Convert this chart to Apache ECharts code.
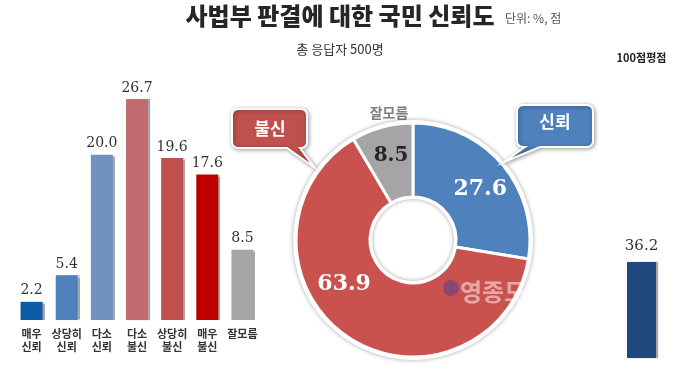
<!DOCTYPE html>
<html><head><meta charset="utf-8">
<script src="https://cdn.jsdelivr.net/npm/echarts@6/dist/echarts.min.js"></script>
<style>html,body{margin:0;padding:0;background:#fff}#c{width:680px;height:376px}</style>
</head><body><div id="c"></div>
<script>
const categories = ['매우\n신뢰','상당히\n신뢰','다소\n신뢰','다소\n불신','상당히\n불신','매우\n불신','잘모름'];
const values = [2.2, 5.4, 20.0, 26.7, 19.6, 17.6, 8.5];
const pieNames = ['신뢰','불신','잘모름'];
const pieValues = [27.6, 63.9, 8.5];
const scoreCategory = ['100점평점'];
const scoreValue = [36.2];

const KR = 'Noto Sans CJK KR';
const SERIF = 'DejaVu Serif';
const barColors = ['#0d5aa7','#4f81bd','#6f92be','#c06b6e','#c0504d','#c00000','#a6a6a6'];
const pieColors = ['#4f81bd','#c9524e','#a5a5a5'];
const pieLabelColors = ['#fff','#fff','#262626'];

function bubble(x, y, w, h, r, tb1, tb2, tip) {
  const pts = [];
  function arc(cx, cy, a0, a1) {
    for (let i = 0; i <= 6; i++) {
      const a = (a0 + (a1 - a0) * i / 6) * Math.PI / 180;
      pts.push([cx + r * Math.cos(a), cy + r * Math.sin(a)]);
    }
  }
  arc(x + r, y + r, 180, 270);
  arc(x + w - r, y + r, 270, 360);
  arc(x + w - r, y + h - r, 0, 90);
  pts.push([tb2, y + h], tip, [tb1, y + h]);
  arc(x + r, y + h - r, 90, 180);
  return pts;
}

const chart = echarts.init(document.getElementById('c'));
chart.setOption({
  backgroundColor: '#fff',
  animation: false,
  grid: [
    {left: 14, width: 246, top: 72, bottom: 56},
    {left: 620, width: 43, top: 93, bottom: 18}
  ],
  xAxis: [
    {gridIndex: 0, type: 'category', data: categories,
     axisLine: {show: false}, axisTick: {show: false},
     axisLabel: {interval: 0, fontFamily: KR, fontWeight: 'bold', fontSize: 11, lineHeight: 13, color: '#333', margin: 7}},
    {gridIndex: 1, type: 'category', data: scoreCategory, position: 'top',
     axisLine: {show: false}, axisTick: {show: false},
     axisLabel: {fontFamily: KR, fontWeight: 'bold', fontSize: 11, color: '#222', margin: 30}}
  ],
  yAxis: [
    {gridIndex: 0, type: 'value', min: 0, max: 30, show: false},
    {gridIndex: 1, type: 'value', min: 0, max: 100, show: false}
  ],
  series: [
    {type: 'bar', xAxisIndex: 0, yAxisIndex: 0, barWidth: 22,
     data: values.map((v, i) => ({value: v, itemStyle: {color: barColors[i]}})),
     itemStyle: {shadowColor: 'rgba(0,0,0,0.35)', shadowOffsetX: 2, shadowBlur: 1},
     label: {show: true, position: 'top', distance: 4, fontFamily: SERIF, fontSize: 14, color: '#333',
             formatter: p => p.value.toFixed(1)}},
    {type: 'bar', xAxisIndex: 1, yAxisIndex: 1, barWidth: 29,
     data: scoreValue, itemStyle: {color: '#1f497d', shadowColor: 'rgba(0,0,0,0.35)', shadowOffsetX: 2, shadowBlur: 1},
     label: {show: true, position: 'top', distance: 8, fontFamily: SERIF, fontSize: 15, color: '#333',
             formatter: p => p.value.toFixed(1)}},
    {type: 'pie', center: [413, 240], radius: [41, 120], silent: true, z: 1,
     data: [{value: 1, itemStyle: {color: '#fff'}}],
     itemStyle: {shadowColor: 'rgba(0,0,0,0.35)', shadowBlur: 4},
     label: {show: false}, labelLine: {show: false}},
    {type: 'pie', center: [413, 240], radius: [43, 117], startAngle: 90, clockwise: true, z: 2,
     data: pieValues.map((v, i) => ({name: pieNames[i], value: v, itemStyle: {color: pieColors[i]},
                                     label: {color: pieLabelColors[i], fontSize: i === 2 ? 20 : 22}})),
     itemStyle: {borderColor: '#fff', borderWidth: 3},
     label: {show: true, position: 'inside', fontFamily: SERIF, fontWeight: 'bold', fontSize: 22, color: '#fff',
             formatter: p => p.value.toFixed(1)},
     labelLayout: function (p) {
       if (p.dataIndex === 0) return {dx: 4, dy: 3};
       if (p.dataIndex === 1) return {dx: -22, dy: -24};
       if (p.dataIndex === 2) return {dy: -4};
       return {};
     },
     labelLine: {show: false},
     emphasis: {disabled: true}}
  ],
  graphic: [
    {type: 'text', left: 'center', top: 4, style: {text: '사법부 판결에 대한 국민 신뢰도', fontFamily: KR, fontWeight: 900, fontSize: 24, fill: '#262626'}, z: 10},
    {type: 'text', left: 505, top: 12, style: {text: '단위: %, 점', fontFamily: KR, fontSize: 12, fill: '#555'}},
    {type: 'text', left: 'center', top: 43, style: {text: '총 응답자 500명', fontFamily: KR, fontSize: 13, fill: '#333'}},
    {type: 'text', x: 389, y: 113, style: {text: '잘모름', fontFamily: KR, fontWeight: 'bold', fontSize: 14, fill: '#7f7f7f', align: 'center', verticalAlign: 'middle'}},
    {type: 'polygon', shape: {points: bubble(232, 109, 75, 39, 6, 287, 300, [314, 167])},
     style: {fill: '#c0504d', stroke: '#fff', lineWidth: 2, shadowColor: 'rgba(0,0,0,0.35)', shadowBlur: 4, shadowOffsetX: 1, shadowOffsetY: 1}, z: 20},
    {type: 'text', x: 270, y: 129, style: {text: '불신', fontFamily: KR, fontWeight: 'bold', fontSize: 17, fill: '#fff', align: 'center', verticalAlign: 'middle'}, z: 21},
    {type: 'polygon', shape: {points: bubble(517, 105, 76, 42, 6, 525, 540, [504, 162])},
     style: {fill: '#4f81bd', stroke: '#fff', lineWidth: 2, shadowColor: 'rgba(0,0,0,0.35)', shadowBlur: 4, shadowOffsetX: 1, shadowOffsetY: 1}, z: 20},
    {type: 'text', x: 555, y: 122, style: {text: '신뢰', fontFamily: KR, fontWeight: 'bold', fontSize: 17, fill: '#fff', align: 'center', verticalAlign: 'middle'}, z: 21},
    {type: 'circle', shape: {cx: 451, cy: 288, r: 8}, style: {fill: 'rgba(90,60,140,0.55)'}, z: 30},
    {type: 'text', x: 460, y: 292, style: {text: '영종도', fontFamily: KR, fontWeight: 'bold', fontSize: 24, fill: 'rgba(255,255,255,0.5)', verticalAlign: 'middle'}, z: 30}
  ]
});
</script></body></html>
